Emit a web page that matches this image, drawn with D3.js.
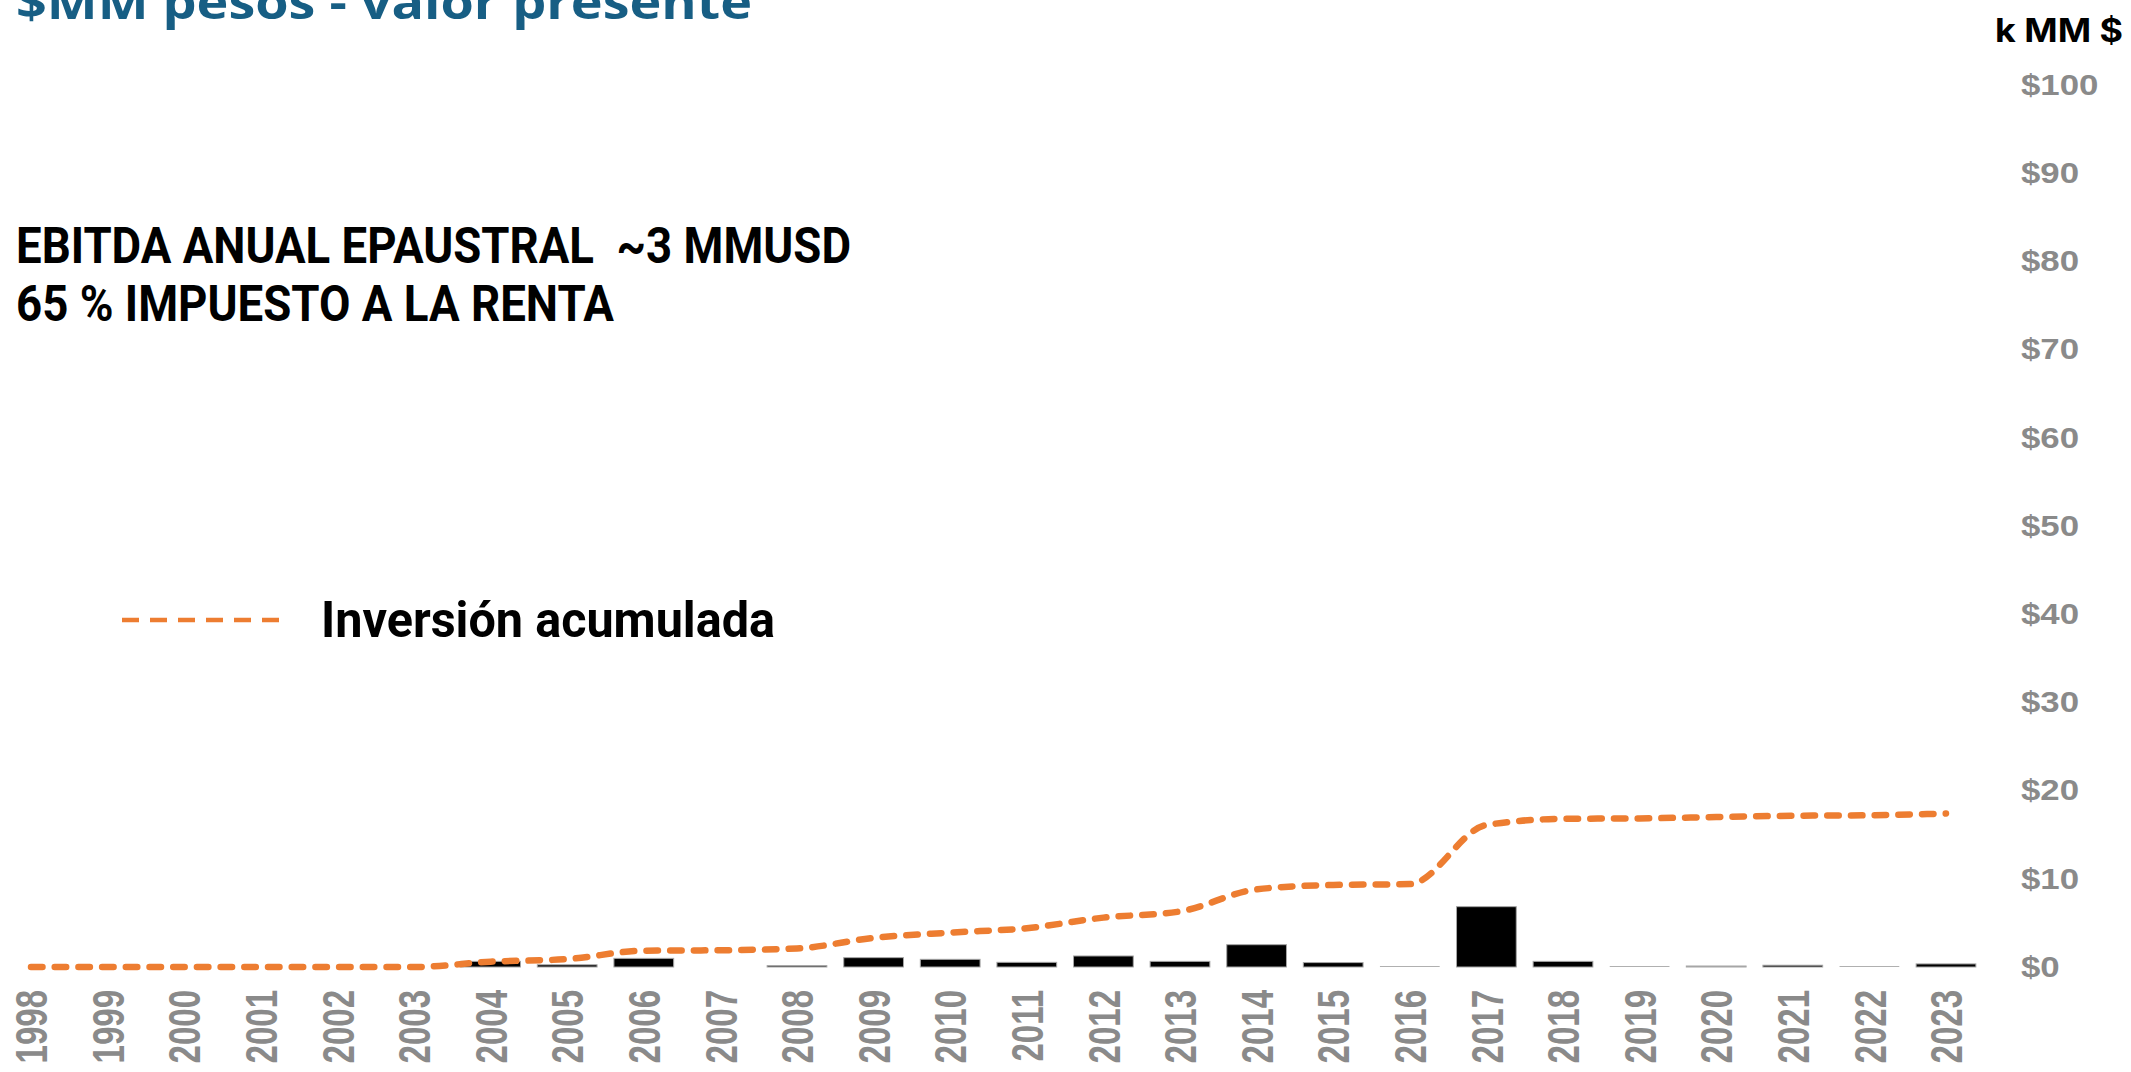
<!DOCTYPE html>
<html>
<head>
<meta charset="utf-8">
<script src="https://cdn.jsdelivr.net/npm/d3@7"></script>
<style>
  html, body { margin: 0; padding: 0; background: #ffffff; overflow: hidden; }
  svg { display: block; }
</style>
</head>
<body>
<svg id="chart" width="2131" height="1072"></svg>
<script>
// ---- data ----
const years = ["1998","1999","2000","2001","2002","2003","2004","2005","2006","2007","2008","2009","2010","2011","2012","2013","2014","2015","2016","2017","2018","2019","2020","2021","2022","2023"];
const annualInvestment = [null,null,null,null,null,null,0.64,0.25,0.98,null,0.15,1.06,0.87,0.53,1.25,0.64,2.53,0.5,0,6.84,0.64,0,0.1,0.2,0,0.35];
const cumulativeInvestment = [0,0,0,0,0,0,0.6,0.9,1.85,1.9,2.1,3.3,3.9,4.4,5.6,6.3,8.8,9.3,9.4,16.1,16.8,16.85,17.0,17.15,17.2,17.4];
const yTicks = [0,10,20,30,40,50,60,70,80,90,100];
const titleText = "$MM pesos - valor presente";
const noteLines = ["EBITDA ANUAL EPAUSTRAL  ~3 MMUSD", "65 % IMPUESTO A LA RENTA"];
const legendLabel = "Inversión acumulada";
const unitLabel = "k MM $";

const svg = d3.select("#chart");

const x = d3.scaleBand()
  .domain(years)
  .range([-7.3, 1984.3])
  .paddingInner(0.22)
  .paddingOuter(0.11);

const y = d3.scaleLinear().domain([0, 100]).range([967, 85]);

// ---- bars ----
svg.append("g").selectAll("rect")
  .data(years.map((yr, i) => ({ yr, v: annualInvestment[i] })).filter(d => d.v !== null))
  .join("rect")
  .attr("x", d => x(d.yr))
  .attr("width", x.bandwidth())
  .attr("y", d => Math.min(y(d.v), y(0) - 1))
  .attr("height", d => Math.max(1, y(0) - y(d.v)))
  .attr("fill", d => d.v === 0 ? "#b0b0b0" : "#000000")
  .attr("stroke", "#a6a6a6")
  .attr("stroke-width", d => d.v === 0 ? 0 : 1);

// ---- cumulative line ----
const line = d3.line()
  .x((d, i) => x(years[i]) + x.bandwidth() / 2)
  .y(d => y(d))
  .curve(d3.curveMonotoneX);

svg.append("path")
  .datum(cumulativeInvestment)
  .attr("d", line)
  .attr("fill", "none")
  .attr("stroke", "#ED7D31")
  .attr("stroke-width", 6.5)
  .attr("stroke-linecap", "round")
  .attr("stroke-dasharray", "11.5,12.2");

// ---- right y axis ----
const yAxis = d3.axisRight(y).tickValues(yTicks).tickSize(0).tickPadding(0)
  .tickFormat(d => "$" + d);
const gy = svg.append("g").attr("transform", "translate(2021,0)").call(yAxis);
gy.select(".domain").remove();
gy.selectAll("text")
  .attr("x", 0)
  .attr("fill", "#8a8a8a")
  .attr("font-family", "'Liberation Sans', Arial, sans-serif")
  .attr("font-weight", "bold")
  .attr("font-size", 29)
  .attr("text-anchor", "start")
  .attr("transform", "scale(1.2,1)");

// ---- bottom x axis (labels only) ----
const xAxis = d3.axisBottom(x).tickSize(0).tickPadding(0);
const gx = svg.append("g").attr("transform", "translate(0,990)").call(xAxis);
gx.select(".domain").remove();
gx.selectAll("text")
  .attr("fill", "#8a8a8a")
  .attr("font-family", "'Liberation Sans', Arial, sans-serif")
  .attr("font-weight", "bold")
  .attr("font-size", 33)
  .attr("text-anchor", "end")
  .attr("y", 0)
  .attr("x", 0)
  .attr("dy", "0.36em")
  .attr("transform", "scale(1.36,1) rotate(-90)");

// ---- unit label ----
svg.append("text")
  .attr("x", 1995).attr("y", 42)
  .attr("font-family", "Inter, 'Liberation Sans', sans-serif")
  .attr("font-weight", "bold")
  .attr("font-size", 33)
  .attr("fill", "#000")
  .attr("textLength", 128)
  .attr("lengthAdjust", "spacingAndGlyphs")
  .text(unitLabel);

// ---- title (cut off at top, as in the reference) ----
svg.append("text")
  .attr("x", 16).attr("y", 19)
  .attr("font-family", "'Open Sans', sans-serif")
  .attr("font-weight", "bold")
  .attr("font-size", 46)
  .attr("fill", "#175e84")
  .attr("textLength", 736)
  .attr("lengthAdjust", "spacingAndGlyphs")
  .text(titleText);

// ---- notes ----
const noteLengths = [835, 598];
svg.append("g").selectAll("text")
  .data(noteLines)
  .join("text")
  .attr("x", 16)
  .attr("y", (d, i) => 263 + i * 58)
  .attr("font-family", "Roboto, sans-serif")
  .attr("font-weight", "bold")
  .attr("font-size", 50)
  .attr("fill", "#000")
  .style("white-space", "pre")
  .attr("textLength", (d, i) => noteLengths[i])
  .attr("lengthAdjust", "spacingAndGlyphs")
  .text(d => d);

// ---- legend ----
svg.append("line")
  .attr("x1", 122).attr("x2", 279)
  .attr("y1", 620).attr("y2", 620)
  .attr("stroke", "#ED7D31")
  .attr("stroke-width", 4.5)
  .attr("stroke-dasharray", "17,11");
svg.append("text")
  .attr("x", 321).attr("y", 637)
  .attr("font-family", "Roboto, sans-serif")
  .attr("font-weight", "bold")
  .attr("font-size", 50)
  .attr("fill", "#000")
  .attr("textLength", 454)
  .attr("lengthAdjust", "spacingAndGlyphs")
  .text(legendLabel);
</script>
</body>
</html>
